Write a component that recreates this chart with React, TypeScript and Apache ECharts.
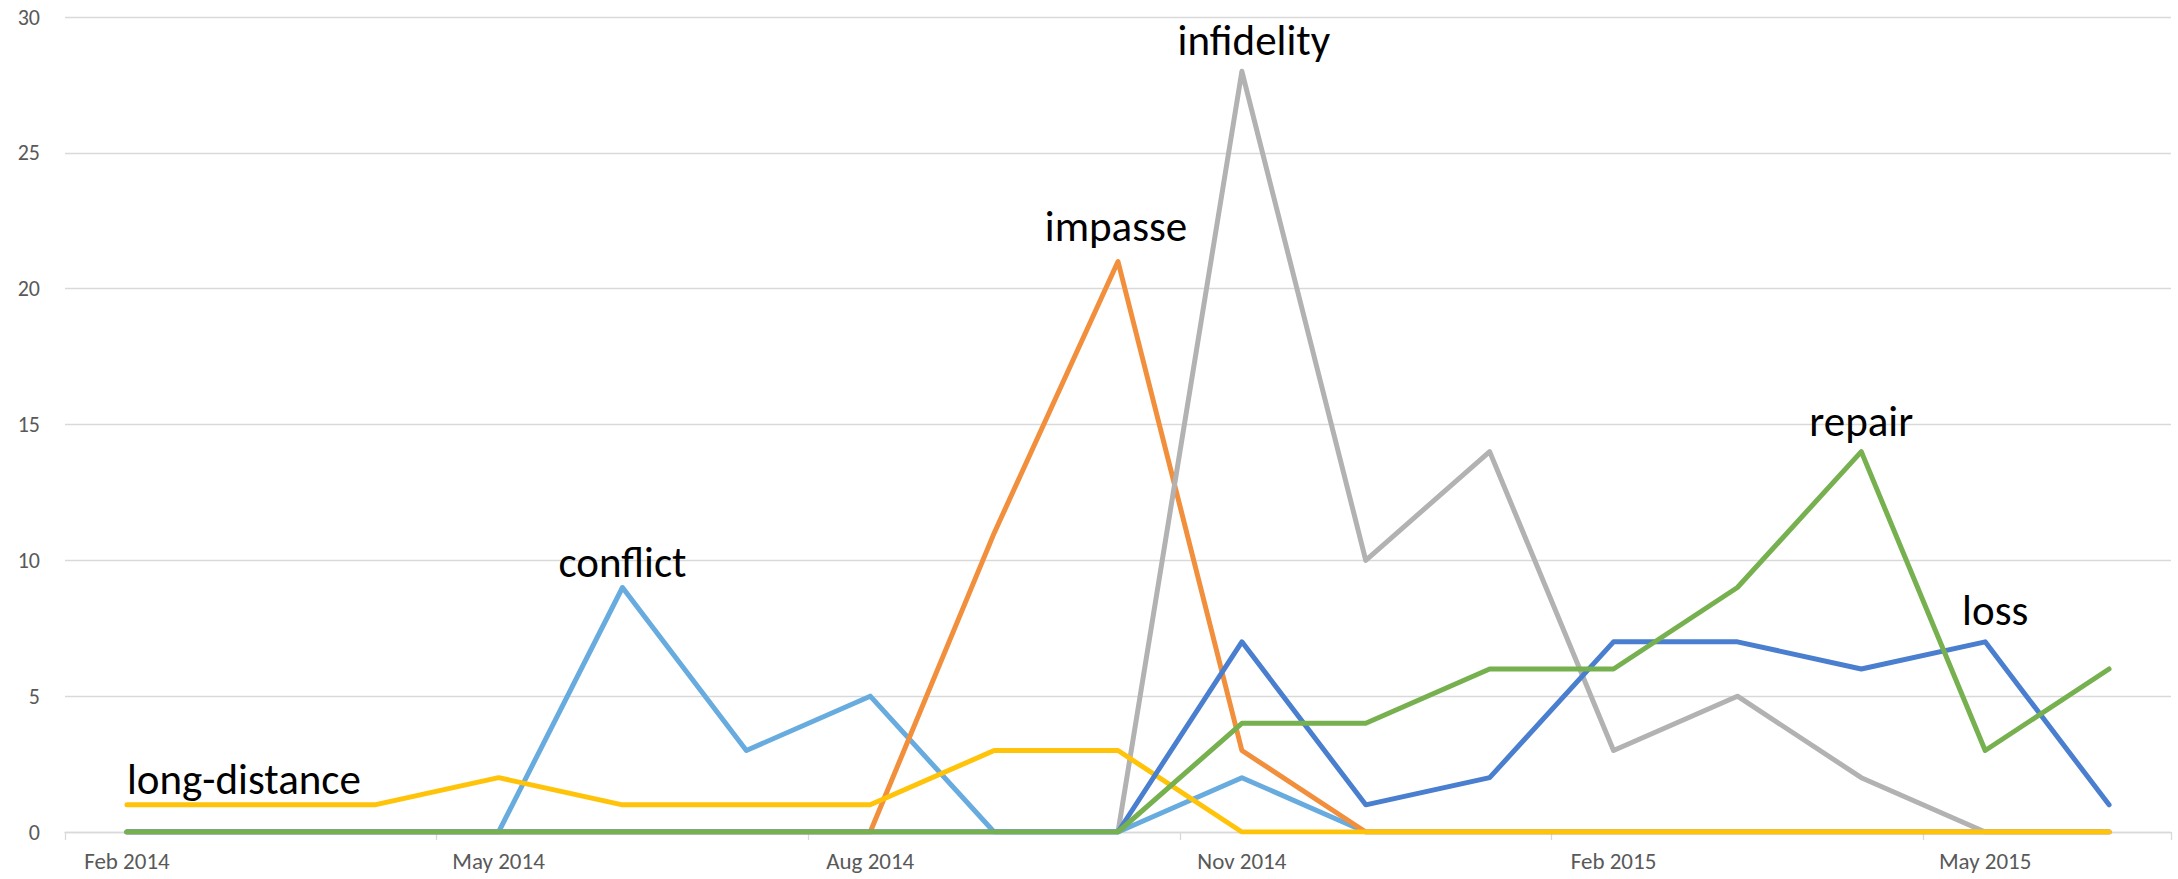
import React, { useEffect, useRef } from "react";
import * as echarts from "echarts";

const months = [
  "Feb 2014", "Mar 2014", "Apr 2014", "May 2014", "Jun 2014", "Jul 2014", "Aug 2014", "Sep 2014",
  "Oct 2014", "Nov 2014", "Dec 2014", "Jan 2015", "Feb 2015", "Mar 2015", "Apr 2015", "May 2015", "Jun 2015",
];

const conflict = [0, 0, 0, 0, 9, 3, 5, 0, 0, 2, 0, 0, 0, 0, 0, 0, 0];
const impasse = [0, 0, 0, 0, 0, 0, 0, 11, 21, 3, 0, 0, 0, 0, 0, 0, 0];
const infidelity = [0, 0, 0, 0, 0, 0, 0, 0, 0, 28, 10, 14, 3, 5, 2, 0, 0];
const longDistance = [1, 1, 1, 2, 1, 1, 1, 3, 3, 0, 0, 0, 0, 0, 0, 0, 0];
const loss = [0, 0, 0, 0, 0, 0, 0, 0, 0, 7, 1, 2, 7, 7, 6, 7, 1];
const repair = [0, 0, 0, 0, 0, 0, 0, 0, 0, 4, 4, 6, 6, 9, 14, 3, 6];

// annotation per series: [category index, dx, dy]
const annotations: Record<string, [number, number, number]> = {
  conflict: [4, 0, -25],
  impasse: [8, -2, -35],
  infidelity: [9, 12, -31],
  "long-distance": [0, 0, -25],
  loss: [15, 10, -31],
  repair: [14, 0, -30],
};

const FONT = "Carlito, Lato, sans-serif";

export default function App() {
  const ref = useRef<HTMLDivElement>(null);
  useEffect(() => {
    if (!ref.current) return;
    const chart = echarts.init(ref.current, null, { renderer: "svg" });
    const defs: [string, number[], string][] = [
      ["conflict", conflict, "#67ABDF"],
      ["impasse", impasse, "#F28F3C"],
      ["infidelity", infidelity, "#B2B2B2"],
      ["long-distance", longDistance, "#FFC30A"],
      ["loss", loss, "#4A7ECF"],
      ["repair", repair, "#76B04F"],
    ];
    const series = defs.map(([name, data, color]) => {
      const [idx, dx, dy] = annotations[name];
      const isLeft = name === "long-distance";
      return {
        name,
        type: "line",
        data,
        symbol: "none",
        lineStyle: { color, width: 5, cap: "round", join: "round" },
        itemStyle: { color },
        markPoint: {
          symbol: "circle",
          symbolSize: 1,
          itemStyle: { color: "rgba(0,0,0,0)" },
          data: [
            {
              coord: [idx, data[idx]],
              label: {
                show: true,
                formatter: name,
                position: "inside",
                offset: [dx, dy],
                align: isLeft ? "left" : "center",
                verticalAlign: "middle",
                color: "#000",
                fontSize: 43,
                fontFamily: FONT,
              },
            },
          ],
        },
      };
    });
    chart.setOption({
      animation: false,
      backgroundColor: "#fff",
      grid: { left: 65, right: 7, top: 17, bottom: 47 },
      xAxis: {
        type: "category",
        data: months,
        boundaryGap: true,
        axisLine: { lineStyle: { color: "#d9d9d9", width: 1.3 } },
        axisTick: { show: true, interval: 2, length: 8, lineStyle: { color: "#d9d9d9", width: 1.3 } },
        axisLabel: { interval: 2, color: "#595959", fontSize: 23, fontFamily: FONT, margin: 17 },
        splitLine: { show: false },
      },
      yAxis: {
        type: "value",
        min: 0,
        max: 30,
        interval: 5,
        axisLine: { show: false },
        axisTick: { show: false },
        axisLabel: { color: "#595959", fontSize: 22, fontFamily: FONT, margin: 25 },
        splitLine: { lineStyle: { color: "#d9d9d9", width: 1.3 } },
      },
      series,
    });
    return () => chart.dispose();
  }, []);
  return (
    <div
      ref={ref}
      style={{ position: "fixed", left: 0, top: 0, width: 2178, height: 879 }}
    />
  );
}
